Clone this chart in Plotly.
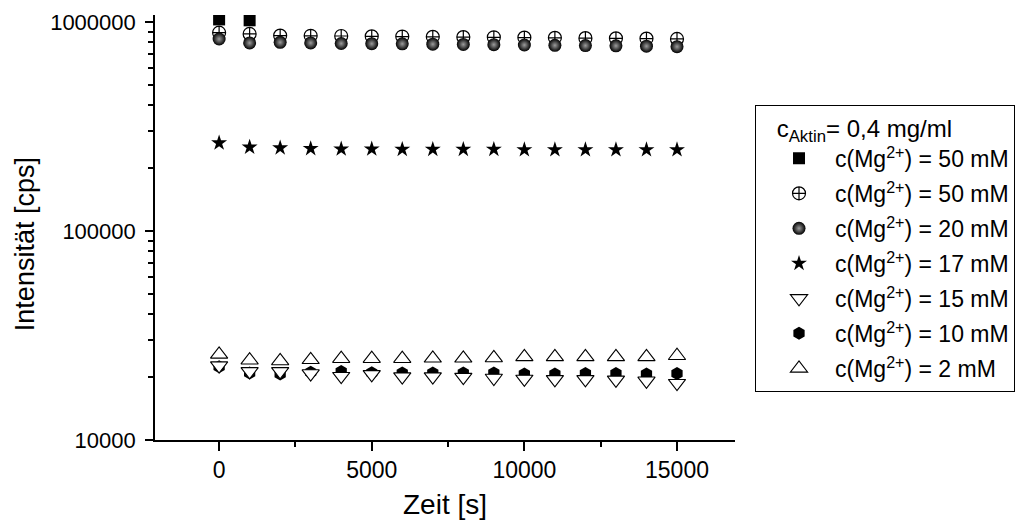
import plotly.graph_objects as go

# Messzeitpunkte [s]
zeit = [0, 1000, 2000, 3000, 4000, 5000, 6000, 7000,
        8000, 9000, 10000, 11000, 12000, 13000, 14000, 15000]

# Streulichtintensitaet [cps] je Mg2+-Konzentration
zeit_50a = [0, 1000]
int_50a = [1030000, 1020000]
int_50b = [890000, 878000, 862000, 860000, 858000, 855000, 853000, 850000,
           848000, 846000, 843000, 841000, 838000, 836000, 834000, 831000]
int_20 = [830000, 795000, 800000, 795000, 790000, 788000, 787000, 784000,
          782000, 780000, 777000, 774000, 772000, 770000, 767000, 763000]
int_17 = [264000, 252000, 250000, 248000, 247000, 247000, 246000, 246000,
          246000, 246000, 245000, 245000, 245000, 245000, 245000, 245000]
int_15 = [22700, 21300, 21300, 20800, 20200, 20600, 20100, 20100,
          20000, 19800, 19600, 19500, 19500, 19400, 19200, 18700]
int_10 = [22400, 20900, 20700, 21100, 21300, 21000, 20900, 20900,
          20900, 20900, 20700, 20700, 20800, 20800, 20700, 20800]
int_2 = [25700, 24100, 23900, 24200, 24500, 24500, 24500, 24600,
         24600, 24700, 25000, 25000, 25000, 25000, 25000, 25300]

y_tickvals = [10000, 100000, 1000000]
y_ticktext = ["10000", "100000", "1000000"]
y_minor = [m * 10 ** e for e in (4, 5) for m in range(2, 10)]

FONT = "Liberation Sans, Arial, sans-serif"
BLACK = "#000000"


def lbl(conc):
    return "c(Mg<sup>2+</sup>) = %s mM" % conc


fig = go.Figure()

# Reihenfolge der Traces = Zeichenreihenfolge; legendrank = Legendenreihenfolge
fig.add_trace(go.Scatter(
    x=zeit_50a, y=int_50a, mode="markers", name=lbl("50"), legendrank=1,
    legendgroup="a",
    marker=dict(symbol="square", size=12, color=BLACK, line=dict(width=0))))
fig.add_trace(go.Scatter(
    x=zeit, y=int_50b, mode="markers", name=lbl("50"), legendrank=2,
    legendgroup="b",
    marker=dict(symbol="circle-cross", size=13, color="white",
                line=dict(color=BLACK, width=1.2))))
fig.add_trace(go.Scatter(
    x=zeit, y=int_20, mode="markers", name=lbl("20"), legendrank=3,
    legendgroup="c",
    marker=dict(symbol="circle", size=13, color=BLACK,
                gradient=dict(type="radial", color="#9c9c9c"),
                line=dict(width=0))))
fig.add_trace(go.Scatter(
    x=zeit, y=int_17, mode="markers", name=lbl("17"), legendrank=4,
    legendgroup="d",
    marker=dict(symbol="star", size=12, color=BLACK, line=dict(width=0))))
fig.add_trace(go.Scatter(
    x=zeit, y=int_10, mode="markers", name=lbl("10"), legendrank=6,
    legendgroup="f",
    marker=dict(symbol="hexagon", size=13, color=BLACK, line=dict(width=0))))
fig.add_trace(go.Scatter(
    x=zeit, y=int_15, mode="markers", name=lbl("15"), legendrank=5,
    legendgroup="e",
    marker=dict(symbol="triangle-down", size=15, color="white",
                line=dict(color=BLACK, width=1.1))))
fig.add_trace(go.Scatter(
    x=zeit, y=int_2, mode="markers", name=lbl("2"), legendrank=7,
    legendgroup="g",
    marker=dict(symbol="triangle-up", size=15, color="white",
                line=dict(color=BLACK, width=1.1))))

fig.update_layout(
    width=1015, height=527,
    margin=dict(l=155, r=280, t=15, b=87, autoexpand=False),
    paper_bgcolor="white", plot_bgcolor="white",
    font=dict(family=FONT, color=BLACK, size=23),
    showlegend=True,
    legend=dict(
        x=1.0345, y=0.789, xanchor="left", yanchor="top",
        bordercolor=BLACK, borderwidth=1, bgcolor="white",
        font=dict(family=FONT, size=23, color=BLACK),
        title=dict(text="\u2002\u00a0c<sub>Aktin</sub>= 0,4 mg/ml",
                   font=dict(family=FONT, size=24, color=BLACK)),
        traceorder="grouped", tracegroupgap=2.1,
        itemwidth=62, indentation=7,
    ),
    xaxis=dict(
        range=[-2100, 16900], tickmode="linear", tick0=0, dtick=5000,
        tickformat="d",
        ticks="outside", ticklen=9, tickwidth=1.5, tickcolor=BLACK,
        showline=True, linecolor=BLACK, linewidth=1.6,
        showgrid=False, zeroline=False,
        tickfont=dict(family=FONT, size=23, color=BLACK),
        minor=dict(ticks="outside", ticklen=5, dtick=2500, tick0=0,
                   tickcolor=BLACK, tickwidth=1.5, showgrid=False),
        title=dict(text="Zeit [s]", font=dict(family=FONT, size=28, color=BLACK),
                   standoff=12),
    ),
    yaxis=dict(
        type="log", range=[4, 6.034],
        tickmode="array", tickvals=y_tickvals, ticktext=y_ticktext,
        ticks="outside", ticklen=8, tickwidth=1.5, tickcolor=BLACK,
        ticklabelstandoff=5,
        showline=True, linecolor=BLACK, linewidth=1.6,
        showgrid=False, zeroline=False,
        tickfont=dict(family=FONT, size=22, color=BLACK),
        minor=dict(ticks="outside", ticklen=5, tickmode="array",
                   tickvals=y_minor, tickcolor=BLACK, tickwidth=1.5,
                   showgrid=False),
    ),
    annotations=[dict(
        text="Intensität [cps]", textangle=-90, showarrow=False,
        xref="paper", yref="paper", x=-0.224, y=0.461,
        xanchor="center", yanchor="middle",
        font=dict(family=FONT, size=27, color=BLACK),
    )],
)

fig.write_html("out.html")
